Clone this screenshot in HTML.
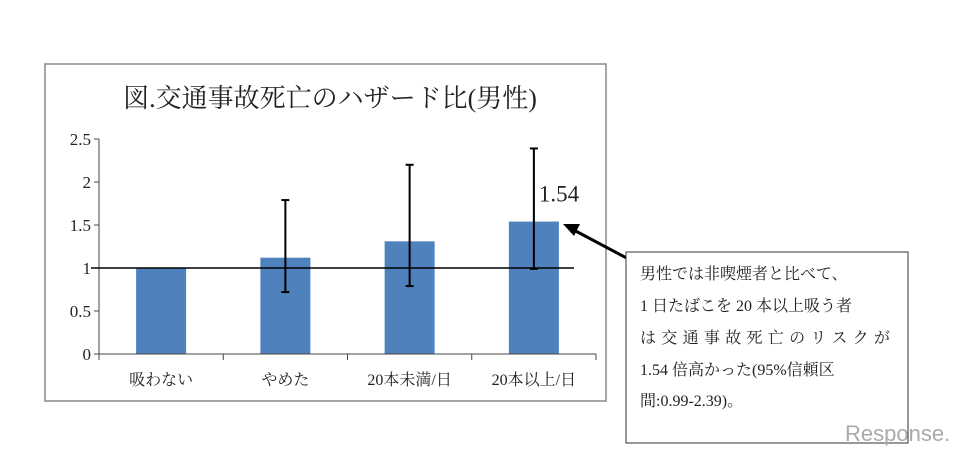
<!DOCTYPE html>
<html><head><meta charset="utf-8">
<style>
body{margin:0;background:#fff;width:968px;height:454px;overflow:hidden}
svg{display:block}
text{font-family:"Liberation Serif","Noto Serif CJK SC","Noto Sans CJK JP",serif;fill:#222}
</style></head><body>
<svg id="c" width="968" height="454">
<rect x="45" y="64" width="561" height="337" fill="#fff" stroke="#888" stroke-width="1.5"/>
<text x="330" y="107" font-size="26" text-anchor="middle">図.交通事故死亡のハザード比(男性)</text>
<g id="plot"></g>
<line x1="636" y1="263" x2="570" y2="228" stroke="#000" stroke-width="3"/>
<polygon points="563,224 580,224 574,236" fill="#000"/>
<rect x="626" y="252" width="282" height="191" fill="#fff" stroke="#333" stroke-width="1"/>
<g font-size="16">
<text x="640" y="279">男性では非喫煙者と比べて、</text>
<text x="640" y="311">1 日たばこを 20 本以上吸う者</text>
<text x="640" y="343" textLength="250">は交通事故死亡のリスクが</text>
<text x="640" y="375">1.54 倍高かった(95%信頼区</text>
<text x="640" y="406">間:0.99-2.39)。</text>
</g>
<text x="845" y="441" font-size="22" fill="#aaa" style="fill:#aaa;font-family:'Liberation Sans',sans-serif">Response.</text>
</svg>
<script>
const categories=["吸わない","やめた","20本未満/日","20本以上/日"];
const values=[1,1.12,1.31,1.54];
const errLow=[null,0.72,0.79,0.99];
const errHigh=[null,1.79,2.2,2.39];
const yTicks=[0,0.5,1,1.5,2,2.5];
const refValue=1;
const annotValue="1.54";
const NS="http://www.w3.org/2000/svg";
const g=document.getElementById('plot');
const x0=99,x1=596,y0=354,yTop=139,ymax=2.5;
const y=v=>y0-(v/ymax)*(y0-yTop);
const bw=(x1-x0)/categories.length;
const cx=i=>x0+bw*(i+0.5);
function mk(t,a){const e=document.createElementNS(NS,t);for(const k in a)e.setAttribute(k,a[k]);g.appendChild(e);return e;}
let e=mk('line',{x1:x0,y1:y0,x2:x0,y2:yTop,stroke:'#444'});


yTicks.forEach(t=>{
 let l=mk('line',{x1:x0-5,x2:x0,y1:y(t),y2:y(t),stroke:'#444'});
 
 
 let tx=mk('text',{x:x0-8,y:y(t)+6,'font-size':17,'text-anchor':'end'});tx.textContent=t;
 
 
});
categories.forEach((c,i)=>{
 let b=mk('rect',{x:cx(i)-25,y:y(values[i]),width:50,height:y0-y(values[i]),fill:'#4f81bd'});
 
 
 let tx=mk('text',{x:cx(i),y:385,'font-size':16,'text-anchor':'middle'});tx.textContent=c;
 
 
});
for(let i=0;i<=categories.length;i++){
 let l=mk('line',{x1:x0+bw*i,x2:x0+bw*i,y1:y0,y2:y0+6,stroke:'#444'});
 
 
}
e=mk('line',{x1:x0,y1:y0,x2:x1,y2:y0,stroke:'#444'});


e=mk('line',{x1:x0-8,y1:y(refValue),x2:574,y2:y(refValue),stroke:'#000','stroke-width':1.5});


categories.forEach((c,i)=>{
 if(errLow[i]==null)return;
 const eg=document.createElementNS(NS,'g');g.appendChild(eg);
 
 
 [[cx(i),y(errLow[i]),cx(i),y(errHigh[i])],[cx(i)-4,y(errLow[i]),cx(i)+4,y(errLow[i])],[cx(i)-4,y(errHigh[i]),cx(i)+4,y(errHigh[i])]].forEach(p=>{
  const l=document.createElementNS(NS,'line');
  l.setAttribute('x1',p[0]);l.setAttribute('y1',p[1]);l.setAttribute('x2',p[2]);l.setAttribute('y2',p[3]);
  l.setAttribute('stroke','#000');l.setAttribute('stroke-width',2);eg.appendChild(l);
 });
});
e=mk('text',{x:cx(3)+5,y:y(values[3])-20,'font-size':23});e.textContent=annotValue;


</script>
</body></html>
